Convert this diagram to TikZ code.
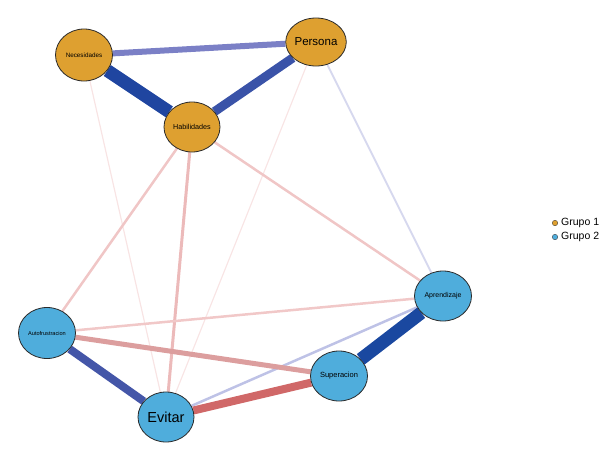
\documentclass[tikz,border=0pt]{standalone}
\usepackage{fontspec}
\setmainfont{Liberation Sans}
\usetikzlibrary{shapes.geometric}
\pgfdeclarelayer{background}
\pgfsetlayers{background,main}
\definecolor{gorange}{HTML}{DEA030}
\definecolor{gblue}{HTML}{4FADDC}
\definecolor{nborder}{HTML}{2A2A2A}
\tikzset{
  vnode/.style={ellipse, draw=nborder, line width=0.8pt, inner sep=0pt,
     minimum width=56pt, minimum height=50pt, text=black},
  g1/.style={vnode, fill=gorange},
  g2/.style={vnode, fill=gblue},
  edge/.style={line cap=butt},
  legdot/.style={circle, draw=nborder, line width=0.3pt, inner sep=0pt, minimum size=5.5pt},
  legtxt/.style={anchor=west, inner sep=0pt, font=\fontsize{10.5}{12}\selectfont}
}
\begin{document}
\begin{tikzpicture}[x=1pt,y=-1pt]
\useasboundingbox (0,0) rectangle (614,456);
% nodes
\node[g1, minimum width=57pt, minimum height=52pt, font=\fontsize{6.3}{7}\selectfont] (nec) at (84,55) {Necesidades};
\node[g1, minimum width=56pt, minimum height=48pt, font=\fontsize{11.5}{12}\selectfont] (per) at (316,42) {Persona};
\node[g1, minimum width=56pt, minimum height=50pt, font=\fontsize{7.2}{8}\selectfont] (hab) at (192,127) {Habilidades};
\node[g2, minimum width=57pt, minimum height=51pt, font=\fontsize{5.6}{6}\selectfont] (aut) at (47,333) {Autofrustracion};
\node[g2, minimum width=56pt, minimum height=50pt, font=\fontsize{14.5}{16}\selectfont] (evi) at (166,417) {Evitar};
\node[g2, minimum width=57pt, minimum height=50pt, font=\fontsize{7.5}{8}\selectfont] (sup) at (339,376) {Superacion};
\node[g2, minimum width=57pt, minimum height=50pt, font=\fontsize{7}{8}\selectfont] (apr) at (443,296) {Aprendizaje};
% edges
\begin{pgfonlayer}{background}
\draw[edge, draw={rgb,255:red,248;green,228;blue,228}, line width=1.2pt] (nec) -- (evi);
\draw[edge, draw={rgb,255:red,248;green,228;blue,228}, line width=1.2pt] (per) -- (evi);
\draw[edge, draw={rgb,255:red,214;green,216;blue,238}, line width=1.8pt] (per) -- (apr);
\draw[edge, draw={rgb,255:red,240;green,198;blue,198}, line width=2.5pt] (hab) -- (aut);
\draw[edge, draw={rgb,255:red,236;green,186;blue,186}, line width=3pt] (hab) -- (evi);
\draw[edge, draw={rgb,255:red,240;green,198;blue,198}, line width=2.5pt] (hab) -- (apr);
\draw[edge, draw={rgb,255:red,241;green,200;blue,200}, line width=2.5pt] (aut) -- (apr);
\draw[edge, draw={rgb,255:red,190;green,194;blue,230}, line width=2.5pt] (evi) -- (apr);
\draw[edge, draw={rgb,255:red,220;green,158;blue,158}, line width=5pt] (aut) -- (sup);
\draw[edge, draw={rgb,255:red,208;green,104;blue,104}, line width=8pt] (evi) -- (sup);
\draw[edge, draw={rgb,255:red,68;green,86;blue,168}, line width=8pt] (aut) -- (evi);
\draw[edge, draw={rgb,255:red,26;green,72;blue,160}, line width=13pt] (apr) -- (sup);
\draw[edge, draw={rgb,255:red,123;green,128;blue,198}, line width=6pt] (nec) -- (per);
\draw[edge, draw={rgb,255:red,58;green,83;blue,168}, line width=9pt] (hab) -- (per);
\draw[edge, draw={rgb,255:red,31;green,69;blue,160}, line width=13pt] (nec) -- (hab);
\end{pgfonlayer}
% legend
\node[legdot, fill=gorange] (l1) at (555,223) {};
\node[legdot, fill=gblue] (l2) at (555,237) {};
\node[legtxt] (t1) at (561,223) {Grupo 1};
\node[legtxt] (t2) at (561,237) {Grupo 2};
\end{tikzpicture}
\end{document}
